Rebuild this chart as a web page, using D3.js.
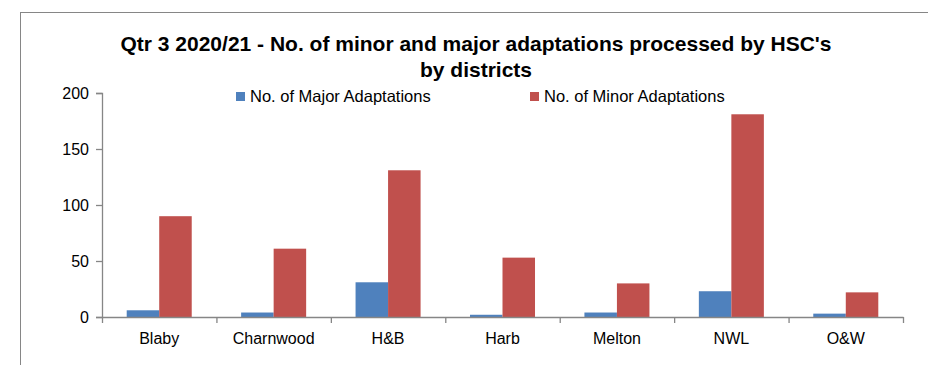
<!DOCTYPE html>
<html>
<head>
<meta charset="utf-8">
<script src="https://cdn.jsdelivr.net/npm/d3@7"></script>
<style>
  body { margin: 0; background: #fff; }
  svg { display: block; font-family: "Liberation Sans", Arial, sans-serif; }
</style>
</head>
<body>
<div id="chart"></div>
<script>
// data
const districts = ["Blaby", "Charnwood", "H&B", "Harb", "Melton", "NWL", "O&W"];
const majorAdaptations = [6, 4, 31, 2, 4, 23, 3];
const minorAdaptations = [90, 61, 131, 53, 30, 181, 22];
const seriesNames = ["No. of Major Adaptations", "No. of Minor Adaptations"];
const seriesColors = ["#4f81bd", "#c0504d"];
const yTicks = [0, 50, 100, 150, 200];

const width = 928, height = 365;
const margin = {top: 93, right: 25, bottom: 48, left: 102};

let svg = d3.select("#chart")
            .append("svg")
                .attr("width", width)
                .attr("height", height);

// outer chart frame (runs off the right and bottom of the picture)
svg.append("rect")
    .attr("x", 20.5)
    .attr("y", 12.5)
    .attr("width", 1000)
    .attr("height", 500)
    .attr("fill", "none")
    .attr("stroke", "#868686");

let x = d3.scaleBand()
    .domain(districts)
    .range([margin.left, width - margin.right]);

// Excel gap width ~150%: two bars + gap inside each band
let xInner = d3.scaleBand()
    .domain([0, 1])
    .range([0, x.bandwidth()])
    .paddingOuter(0.76);

let y = d3.scaleLinear()
    .domain([0, 200])
    .range([height - margin.bottom, margin.top]);

// bars
let groups = svg.selectAll(".district")
    .data(districts)
    .enter()
    .append("g")
        .attr("class", "district")
        .attr("transform", d => "translate(" + x(d) + ",0)");

groups.selectAll("rect")
    .data((d, i) => [majorAdaptations[i], minorAdaptations[i]])
    .enter()
    .append("rect")
        .attr("x", (d, j) => xInner(j))
        .attr("width", xInner.bandwidth())
        .attr("y", d => y(d))
        .attr("height", d => y(0) - y(d))
        .attr("fill", (d, j) => seriesColors[j]);

// y axis
let yAxis = svg.append("g")
    .attr("transform", "translate(" + margin.left + ",0)")
    .call(d3.axisLeft(y).tickValues(yTicks).tickSizeOuter(0).tickSize(6).tickPadding(7));

// x axis with ticks on category boundaries
let xAxis = svg.append("g")
    .attr("transform", "translate(0," + y(0) + ")")
    .call(d3.axisBottom(x).tickSize(0).tickPadding(16).tickSizeOuter(0));

let bounds = districts.map(d => x(d)).concat([x.range()[1]]);
xAxis.selectAll(".bound")
    .data(bounds)
    .enter()
    .append("line")
        .attr("class", "bound")
        .attr("x1", d => d + 0.5)
        .attr("x2", d => d + 0.5)
        .attr("y1", 0)
        .attr("y2", 6);

[yAxis, xAxis].forEach(a => {
    a.selectAll(".domain, line").attr("stroke", "#868686").attr("stroke-width", 1.3);
    a.selectAll("text").attr("fill", "#000").style("font-size", "16px").style("font-family", "Liberation Sans, Arial, sans-serif");
});

// title
let title = svg.append("text")
    .attr("text-anchor", "middle")
    .attr("font-weight", "bold")
    .attr("font-size", "21px")
    .attr("fill", "#000");
title.append("tspan").attr("x", 476).attr("y", 51).text("Qtr 3 2020/21 - No. of minor and major adaptations processed by HSC's");
title.append("tspan").attr("x", 476).attr("y", 77).text("by districts");

// legend
let legendX = [236, 530];
let legend = svg.selectAll(".legend")
    .data(seriesNames)
    .enter()
    .append("g")
        .attr("class", "legend")
        .attr("transform", (d, i) => "translate(" + legendX[i] + ",92)");

legend.append("rect")
    .attr("width", 9)
    .attr("height", 9)
    .attr("fill", (d, i) => seriesColors[i]);

legend.append("text")
    .attr("x", 14)
    .attr("y", 10)
    .attr("font-size", "16.5px")
    .attr("fill", "#000")
    .text(d => d);
</script>
</body>
</html>
